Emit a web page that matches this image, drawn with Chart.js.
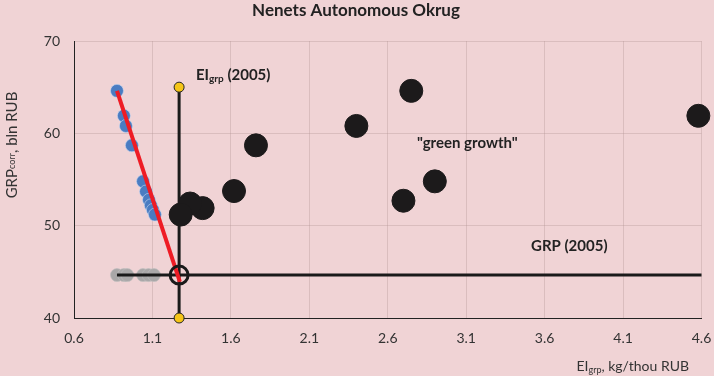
<!DOCTYPE html>
<html>
<head>
<meta charset="utf-8">
<script src="https://cdn.jsdelivr.net/npm/chart.js@4.4.0/dist/chart.umd.min.js"></script>
<style>
  html, body { margin: 0; padding: 0; background: #f0d3d5; }
  #wrap { width: 714px; height: 376px; }
</style>
</head>
<body>
<div id="wrap"><canvas id="eiChart" width="714" height="376"></canvas></div>
<script>
// tick labels
const xTicks = [0.6, 1.1, 1.6, 2.1, 2.6, 3.1, 3.6, 4.1, 4.6];
const yTicks = [40, 50, 60, 70];

// blue: EI needed to keep emissions at 2005 level for each GRPcorr
const blueEI = [0.874, 0.918, 0.931, 0.969, 1.040, 1.059, 1.078, 1.090, 1.103, 1.116];
const grpCorr = [64.6, 61.9, 60.8, 58.7, 54.8, 53.7, 52.8, 52.2, 51.7, 51.2];

// black: actual EI for each year
const actualEI = [2.75, 4.58, 2.40, 1.76, 2.90, 1.62, 2.70, 1.42, 1.34, 1.28];
const actualGRP = [64.6, 61.9, 60.8, 58.7, 54.8, 53.75, 52.7, 51.9, 52.4, 51.2];

// gray: blue EI projected on GRP (2005)
const grayEI = [0.874, 0.918, 0.94, 1.04, 1.075, 1.11];

// 2005 base point
const ei2005 = 1.27;
const grp2005 = 44.65;
const eiTop = 65.0;
const redEnd = [1.275, 43.9];

const FONT = 'Lato, "Open Sans", sans-serif';
const ctx = document.getElementById('eiChart').getContext('2d');

function pts(xs, ys) {
    return xs.map((x, i) => ({ x: x, y: Array.isArray(ys) ? ys[i] : ys }));
}

function drawRuns(c, x, y, runs) {
    runs.forEach(r => {
        c.font = r.f;
        c.fillText(r.t, x, y + (r.dy || 0));
        x += c.measureText(r.t).width;
    });
}
function runsWidth(c, runs) {
    let w = 0;
    runs.forEach(r => { c.font = r.f; w += c.measureText(r.t).width; });
    return w;
}

// Titles and annotations drawn as text on the canvas
const textPlugin = {
    id: 'texts',
    afterDraw(chart) {
        const c = chart.ctx;
        c.save();
        c.fillStyle = '#222';
        c.textBaseline = 'middle';
        c.textAlign = 'left';

        // title
        c.font = 'bold 17px ' + FONT;
        c.textAlign = 'center';
        c.fillText('Nenets Autonomous Okrug', 356, 11);
        c.textAlign = 'left';

        // EIgrp (2005)
        drawRuns(c, 196, 75, [
            { t: 'EI', f: 'bold 15px ' + FONT },
            { t: 'grp', f: 'bold 10px ' + FONT, dy: 4 },
            { t: ' (2005)', f: 'bold 15px ' + FONT }
        ]);
        c.font = 'bold 15px ' + FONT;
        c.fillText('"green growth"', 417, 143);
        c.fillText('GRP (2005)', 531, 246);

        // x axis title
        c.fillStyle = '#333';
        const xr = [
            { t: 'EI', f: '14px ' + FONT },
            { t: 'grp', f: '9px ' + FONT, dy: 4 },
            { t: ', kg/thou RUB', f: '14px ' + FONT }
        ];
        drawRuns(c, 689 - runsWidth(c, xr), 366, xr);

        // y axis title
        const yr = [
            { t: 'GRP', f: '15px ' + FONT },
            { t: 'corr', f: '9px ' + FONT },
            { t: ', bln RUB', f: '15px ' + FONT }
        ];
        c.translate(12, 145);
        c.rotate(-Math.PI / 2);
        drawRuns(c, -runsWidth(c, yr) / 2, 0, yr);
        c.restore();
    }
};

new Chart(ctx, {
    type: 'scatter',
    data: {
        datasets: [
            {   // yellow end points of the EI (2005) line
                data: [{ x: ei2005, y: eiTop }, { x: ei2005, y: 40 }],
                pointRadius: 5,
                backgroundColor: '#f5c518',
                borderColor: '#222',
                borderWidth: 1,
                order: 1
            },
            {   // 2005 base point
                data: [{ x: ei2005, y: grp2005 }],
                pointRadius: 9,
                backgroundColor: 'rgba(0,0,0,0)',
                borderColor: '#1a1a1a',
                borderWidth: 3,
                order: 2
            },
            {   // actual values
                data: pts(actualEI, actualGRP),
                pointRadius: 11.5,
                backgroundColor: '#1c1a1b',
                borderColor: '#1c1a1b',
                order: 3
            },
            {   // red line
                data: [{ x: blueEI[0], y: grpCorr[0] }, { x: redEnd[0], y: redEnd[1] }],
                showLine: true,
                borderColor: '#ee1c25',
                borderWidth: 4,
                pointRadius: 0,
                order: 4
            },
            {   // blue points
                data: pts(blueEI, grpCorr),
                pointRadius: 6.5,
                backgroundColor: '#4a7cc2',
                borderColor: 'rgba(200,215,240,0.6)',
                borderWidth: 1,
                order: 5
            },
            {   // EI (2005) vertical line
                data: [{ x: ei2005, y: 40 }, { x: ei2005, y: eiTop }],
                showLine: true,
                borderColor: '#1a1a1a',
                borderWidth: 3,
                pointRadius: 0,
                order: 6
            },
            {   // GRP (2005) horizontal line
                data: [{ x: blueEI[0], y: grp2005 }, { x: 4.6, y: grp2005 }],
                showLine: true,
                borderColor: '#1a1a1a',
                borderWidth: 3,
                pointRadius: 0,
                order: 7
            },
            {   // gray points
                data: pts(grayEI, grp2005),
                pointRadius: 6.5,
                backgroundColor: '#a9a7a8',
                borderColor: 'rgba(190,190,190,0.6)',
                borderWidth: 1,
                order: 8
            }
        ]
    },
    options: {
        responsive: false,
        devicePixelRatio: 1,
        animation: false,
        clip: false,
        layout: { padding: { top: 41, right: 0, left: 0, bottom: 0 } },
        plugins: {
            legend: { display: false },
            tooltip: { enabled: false }
        },
        scales: {
            x: {
                type: 'linear',
                min: 0.6,
                max: 4.6,
                afterBuildTicks: s => { s.ticks = xTicks.map(v => ({ value: v })); },
                afterFit: s => { s.height = 58; s.paddingRight = 10; },
                ticks: {
                    color: '#333',
                    font: { family: FONT, size: 14 },
                    padding: 12,
                    maxRotation: 0,
                    autoSkip: false,
                    callback: v => Number(v).toFixed(1)
                },
                grid: { color: 'rgba(170,140,140,0.3)', drawTicks: false },
                border: { color: '#222', width: 1 }
            },
            y: {
                min: 40,
                max: 70,
                afterBuildTicks: s => { s.ticks = yTicks.map(v => ({ value: v })); },
                afterFit: s => { s.width = 74; },
                ticks: {
                    color: '#333',
                    font: { family: FONT, size: 14 },
                    padding: 14
                },
                grid: { color: 'rgba(170,140,140,0.3)', drawTicks: false },
                border: { color: '#222', width: 1 }
            }
        }
    },
    plugins: [textPlugin]
});
</script>
</body>
</html>
